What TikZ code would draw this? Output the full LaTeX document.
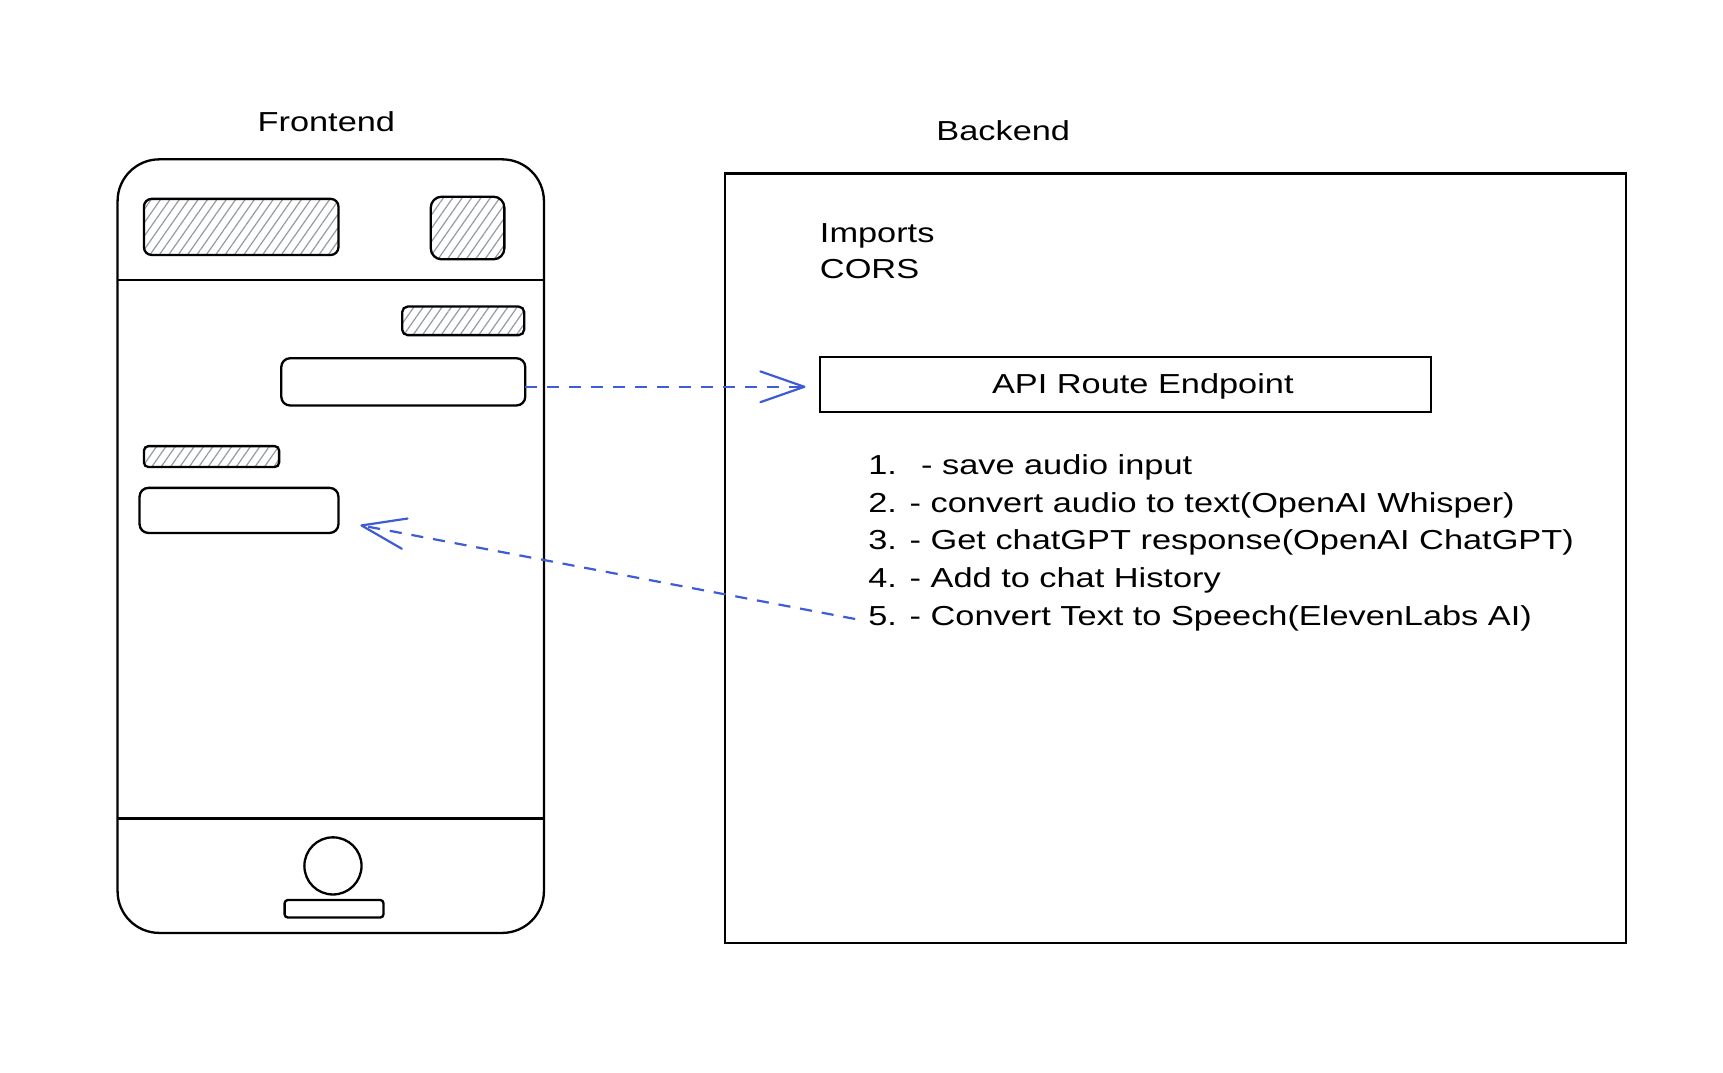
\documentclass[tikz,border=0pt]{standalone}
\usepackage{fontspec}
\setmainfont{Liberation Sans}[FakeStretch=1.25]
\usetikzlibrary{arrows.meta,patterns.meta}
\definecolor{flowblue}{RGB}{62,92,214}
\definecolor{hatchgray}{RGB}{150,155,162}
\begin{document}
\begin{tikzpicture}[x=1pt,y=-1pt,
  outline/.style={draw=black,line width=2.1pt,inner sep=0pt,outer sep=0pt},
  hatchbox/.style={outline,rounded corners=7pt,pattern={Lines[angle=55,distance=7pt,line width=1.1pt]},pattern color=hatchgray},
  chatbox/.style={outline,rounded corners=8pt},
  label/.style={inner sep=0pt,font=\fontsize{25}{30}\selectfont},
  flow/.style={draw=flowblue,line width=2pt,dash pattern=on 11pt off 9pt,
    -{Straight Barb[length=40pt,width=28pt,line width=2pt,round]}}
]
\fill[white] (0,0) rectangle (1568,976);
\useasboundingbox (0,0) rectangle (1568,976);

% ---------- Frontend ----------
\node[label,anchor=base] (fronttitle) at (297,120) {Frontend};
\node[outline,rounded corners=38pt,minimum width=388pt,minimum height=704pt] (phone) at (301,497) {};
\draw[line width=2.1pt] (phone.west |- 0,255) -- (phone.east |- 0,255);
\draw[line width=2.1pt] (phone.west |- 0,745) -- (phone.east |- 0,745);

\node[hatchbox,minimum width=177pt,minimum height=51pt] (hatchA) at (219.5,206.5) {};
\node[hatchbox,rounded corners=10pt,minimum width=67pt,minimum height=57pt] (hatchB) at (425.5,207.5) {};
\node[hatchbox,rounded corners=5pt,minimum width=111pt,minimum height=26pt] (hatchC) at (421.5,292) {};
\node[chatbox,minimum width=222pt,minimum height=43pt] (chatR) at (367,347.5) {};
\node[hatchbox,rounded corners=4pt,minimum width=123pt,minimum height=19pt] (hatchD) at (192.5,415.5) {};
\node[chatbox,minimum width=181pt,minimum height=41pt] (chatL) at (217.5,464.5) {};

\node[outline,circle,minimum size=52pt] (home) at (303,788) {};
\node[outline,rounded corners=3pt,minimum width=90pt,minimum height=16pt] (homebar) at (304,827) {};

% ---------- Backend ----------
\node[label,anchor=base] (backtitle) at (913,128) {Backend};
\node[outline,minimum width=820pt,minimum height=700pt] (backend) at (1070,508) {};

\node[label,anchor=base west] (imports) at (746,221) {Imports};
\node[label,anchor=base west] (cors) at (746,253) {CORS};

\node[outline,minimum width=556pt,minimum height=50pt] (api) at (1024,350) {};
\node[label,anchor=base] (apilabel) at (1040,358) {API Route Endpoint};

\node[label,anchor=base west] (item1) at (790,432) {1.\hspace{22pt}- save audio input};
\node[label,anchor=base west] (item2) at (790,466) {2. - convert audio to text(OpenAI Whisper)};
\node[label,anchor=base west] (item3) at (790,500) {3. - Get chatGPT response(OpenAI ChatGPT)};
\node[label,anchor=base west] (item4) at (790,535) {4. - Add to chat History};
\node[label,anchor=base west] (item5) at (790,569) {5. - Convert Text to Speech(ElevenLabs AI)};

% ---------- Connectors ----------
\draw[flow,shorten >=13pt] ([yshift=-4.5pt]chatR.east) -- ([yshift=-2pt]api.west);
\coordinate (tip2) at (328,478);
\draw[flow,shorten <=12pt] ([yshift=-3pt]item5.west) -- (tip2);
\end{tikzpicture}
\end{document}
